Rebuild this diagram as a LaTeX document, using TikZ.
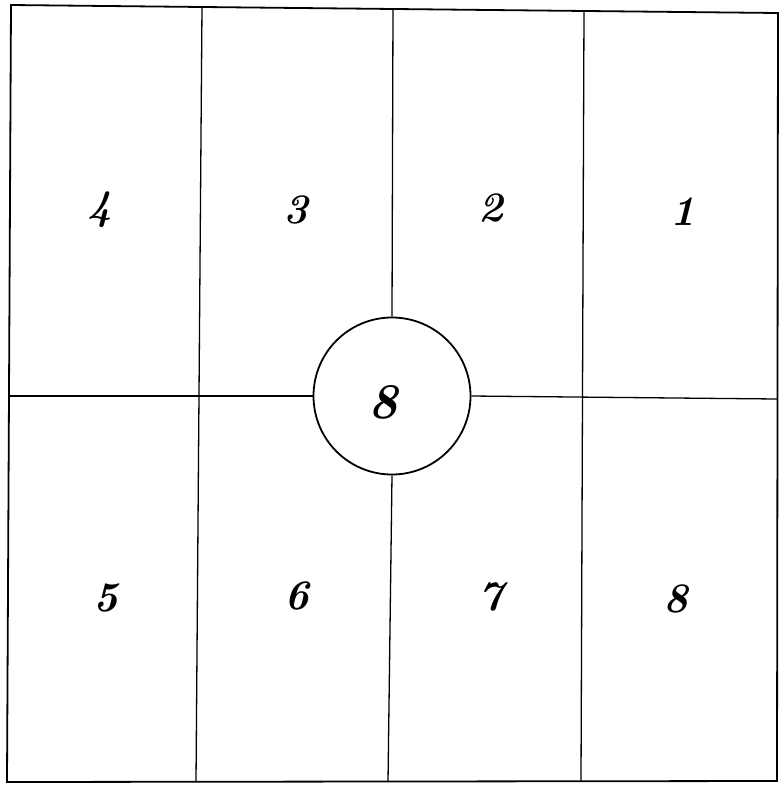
\documentclass[tikz,border=0pt]{standalone}
\begin{document}
\begin{tikzpicture}[x=1pt,y=-1pt,
  frame/.style={line width=1.8pt},
  divider/.style={line width=1.3pt},
  hub/.style={circle,draw,line width=1.8pt,minimum size=157pt,inner sep=0pt},
  digit/.style={font=\fontsize{42}{48}\selectfont\bfseries\itshape},
  bigdigit/.style={font=\fontsize{50}{56}\selectfont\bfseries\itshape}]
\useasboundingbox (0,0) rectangle (779,785);
% outer frame
\coordinate (tl) at (11,5);
\coordinate (tr) at (778,13);
\coordinate (br) at (777,781);
\coordinate (bl) at (7,782);
\draw[frame] (tl) -- (tr) -- (br) -- (bl) -- cycle;
% hub
\node[hub] (c) at (392,396) {};
\node[bigdigit] (c8) at (383,402) {8};
% dividers
\coordinate (v1t) at (202,7);
\coordinate (v1b) at (196,782);
\coordinate (v2t) at (393,9);
\coordinate (v2b) at (388,782);
\coordinate (v3t) at (584,11);
\coordinate (v3b) at (581,781);
\coordinate (hl) at (9,396);
\coordinate (hr) at (777,399);
\draw[divider] (v1t) -- (v1b);
\draw[divider] (v3t) -- (v3b);
\draw[divider] (v2t) -- (c.north);
\draw[divider] (c.south) -- (v2b);
\draw[divider] (hl) -- (c.west);
\draw[divider] (c.east) -- (hr);
% labels
\node[digit] (n4) at (100,210) {4};
\node[digit] (n3) at (296,210) {3};
\node[digit] (n2) at (491,208) {2};
\node[digit] (n1) at (683,212) {1};
\node[digit] (n5) at (106,598) {5};
\node[digit] (n6) at (297,596) {6};
\node[digit] (n7) at (491,597) {7};
\node[digit] (n8) at (676,599) {8};
\end{tikzpicture}
\end{document}
